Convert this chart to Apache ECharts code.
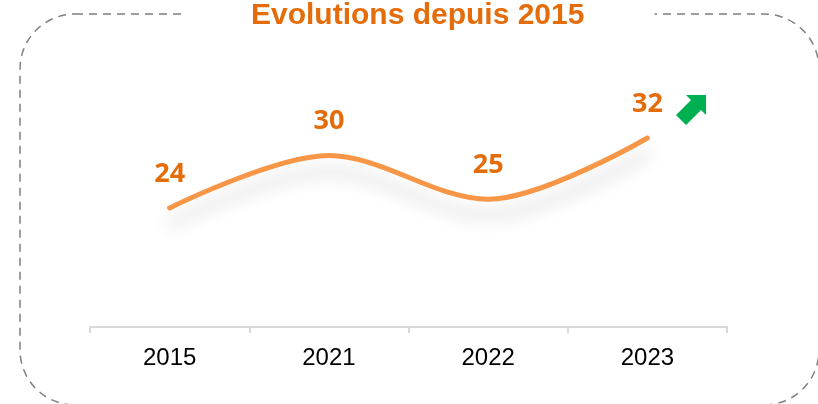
<!DOCTYPE html>
<html>
<head>
<meta charset="utf-8">
<script src="https://cdn.jsdelivr.net/npm/echarts@6/dist/echarts.min.js"></script>
<style>
html, body { margin: 0; padding: 0; background: #fff; }
#chart { width: 818px; height: 404px; }
</style>
</head>
<body>
<div id="chart"></div>
<script>
// données
var annees = ['2015', '2021', '2022', '2023'];
var valeurs = [24, 30, 25, 32];

var myChart = echarts.init(document.getElementById('chart'));

var option = {
    animation: false,
    title: {
        text: 'Evolutions depuis 2015',
        left: 185,
        top: 0,
        padding: [1, 70, 4, 66],
        backgroundColor: '#fff',
        textStyle: {
            color: '#E46C0A',
            fontFamily: 'Liberation Sans',
            fontWeight: 'bold',
            fontSize: 30
        }
    },
    grid: { left: 90, right: 91, top: 103, bottom: 77 },
    xAxis: {
        type: 'category',
        data: annees,
        boundaryGap: true,
        axisLine: { lineStyle: { color: '#d9d9d9', width: 2 } },
        axisTick: { show: true, length: 6, lineStyle: { color: '#d9d9d9', width: 2 } },
        axisLabel: {
            color: '#000',
            fontFamily: 'Liberation Sans',
            fontSize: 24,
            margin: 19
        }
    },
    yAxis: {
        type: 'value',
        min: 10.4,
        max: 36,
        show: false,
        splitLine: { show: false }
    },
    series: [{
        type: 'line',
        data: valeurs,
        smooth: 0.33,
        symbol: 'circle',
        symbolSize: 1,
        itemStyle: { color: 'rgba(0,0,0,0)' },
        lineStyle: {
            color: '#F79646',
            width: 5,
            cap: 'round',
            shadowColor: 'rgba(0,0,0,0.2)',
            shadowBlur: 18,
            shadowOffsetY: 16
        },
        label: {
            show: true,
            position: 'top',
            distance: 20,
            color: '#E46C0A',
            fontFamily: 'Open Sans',
            fontWeight: 'bold',
            fontSize: 27
        }
    }],
    graphic: [
        {
            type: 'rect',
            z: -1,
            shape: { x: 20, y: 14, width: 799, height: 391, r: 55 },
            style: { fill: 'none', stroke: '#7f7f7f', lineWidth: 1.5, lineDash: [8, 6] }
        },
        {
            // flèche verte
            type: 'polygon',
            shape: {
                points: [[706, 95], [706, 115], [701, 110], [686, 125], [676, 115], [691, 100], [686, 95]]
            },
            style: { fill: '#00B050' }
        }
    ]
};

myChart.setOption(option);
</script>
</body>
</html>
